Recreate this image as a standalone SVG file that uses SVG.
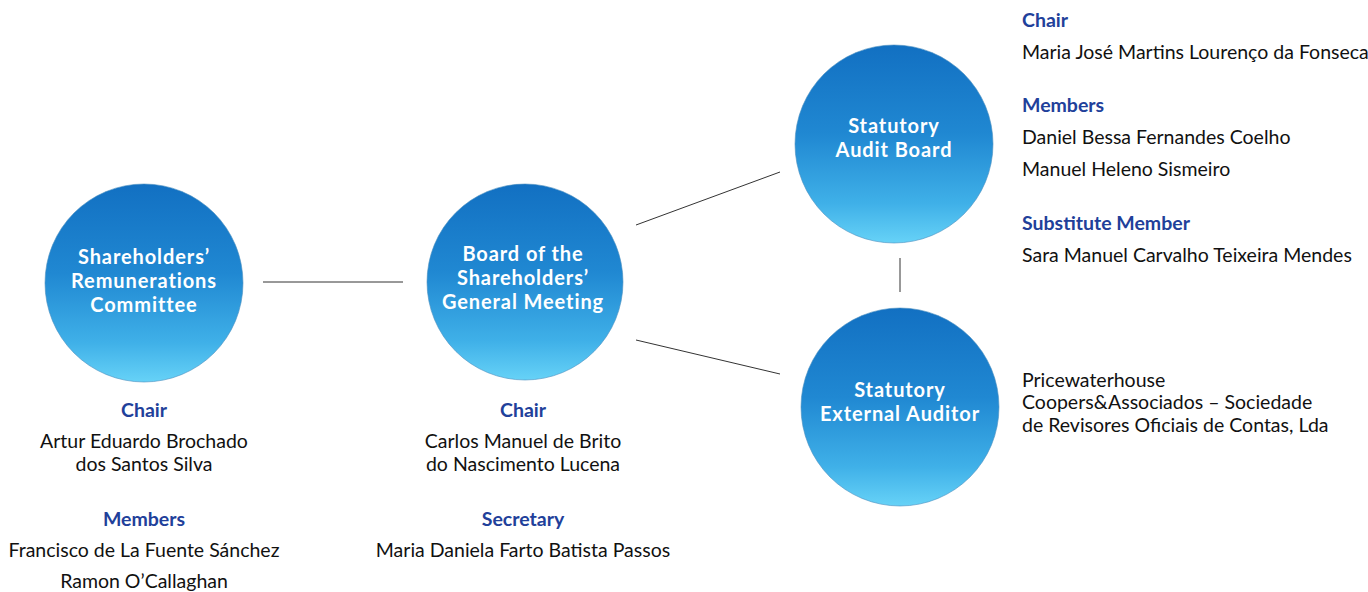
<svg xmlns="http://www.w3.org/2000/svg" width="1368" height="592" viewBox="0 0 1368 592">
<defs>
<linearGradient id="g" x1="0" y1="0" x2="0" y2="1">
<stop offset="0" stop-color="#1270c2"/>
<stop offset="0.45" stop-color="#2088d2"/>
<stop offset="0.8" stop-color="#3fb0e8"/>
<stop offset="1" stop-color="#66d2f7"/>
</linearGradient>
<style>
.c{fill:url(#g);stroke:#4a8fc0;stroke-width:0.6}
.t{font-family:Lato,"Open Sans","Liberation Sans",sans-serif;font-weight:bold;font-size:20px;letter-spacing:0.9px;fill:#fff;text-anchor:middle}
.h{font-family:Lato,"Open Sans","Liberation Sans",sans-serif;font-weight:bold;font-size:19.5px;fill:#21409a}
.n{font-family:Lato,"Open Sans","Liberation Sans",sans-serif;font-size:19.5px;fill:#111}
.m{text-anchor:middle}
.l{stroke:#333;stroke-width:1;fill:none}
</style>
</defs>
<rect width="1368" height="592" fill="#fff"/>
<g id="connectors">
<line class="l" x1="263" y1="282" x2="403" y2="282"/>
<line class="l" x1="636" y1="225" x2="780" y2="172"/>
<line class="l" x1="636" y1="340" x2="780" y2="374"/>
<line class="l" x1="900" y1="258" x2="900" y2="292"/>
</g>
<g id="remunerations">
<circle class="c" cx="144" cy="283" r="99"/>
<text class="t" x="144" y="264">Shareholders’</text>
<text class="t" x="144" y="288">Remunerations</text>
<text class="t" x="144" y="312">Committee</text>
<text class="h m" x="144" y="417">Chair</text>
<text class="n m" x="144" y="448">Artur Eduardo Brochado</text>
<text class="n m" x="144" y="471">dos Santos Silva</text>
<text class="h m" x="144" y="526">Members</text>
<text class="n m" x="144" y="557">Francisco de La Fuente Sánchez</text>
<text class="n m" x="144" y="588">Ramon O’Callaghan</text>
</g>
<g id="general-meeting">
<circle class="c" cx="525" cy="282" r="98"/>
<text class="t" x="523" y="261">Board of the</text>
<text class="t" x="523" y="285">Shareholders’</text>
<text class="t" x="523" y="309">General Meeting</text>
<text class="h m" x="523" y="417">Chair</text>
<text class="n m" x="523" y="448">Carlos Manuel de Brito</text>
<text class="n m" x="523" y="471">do Nascimento Lucena</text>
<text class="h m" x="523" y="526">Secretary</text>
<text class="n m" x="523" y="557">Maria Daniela Farto Batista Passos</text>
</g>
<g id="audit-board">
<circle class="c" cx="894" cy="144" r="99"/>
<text class="t" x="894" y="133">Statutory</text>
<text class="t" x="894" y="157">Audit Board</text>
<text class="h" x="1022" y="27">Chair</text>
<text class="n" x="1022" y="59">Maria José Martins Lourenço da Fonseca</text>
<text class="h" x="1022" y="112">Members</text>
<text class="n" x="1022" y="144">Daniel Bessa Fernandes Coelho</text>
<text class="n" x="1022" y="176">Manuel Heleno Sismeiro</text>
<text class="h" x="1022" y="230">Substitute Member</text>
<text class="n" x="1022" y="262">Sara Manuel Carvalho Teixeira Mendes</text>
</g>
<g id="external-auditor">
<circle class="c" cx="900" cy="407" r="99"/>
<text class="t" x="900" y="397">Statutory</text>
<text class="t" x="900" y="421">External Auditor</text>
<text class="n" x="1022" y="387">Pricewaterhouse</text>
<text class="n" x="1022" y="409">Coopers&amp;Associados – Sociedade</text>
<text class="n" x="1022" y="432">de Revisores Oficiais de Contas, Lda</text>
</g>
</svg>
